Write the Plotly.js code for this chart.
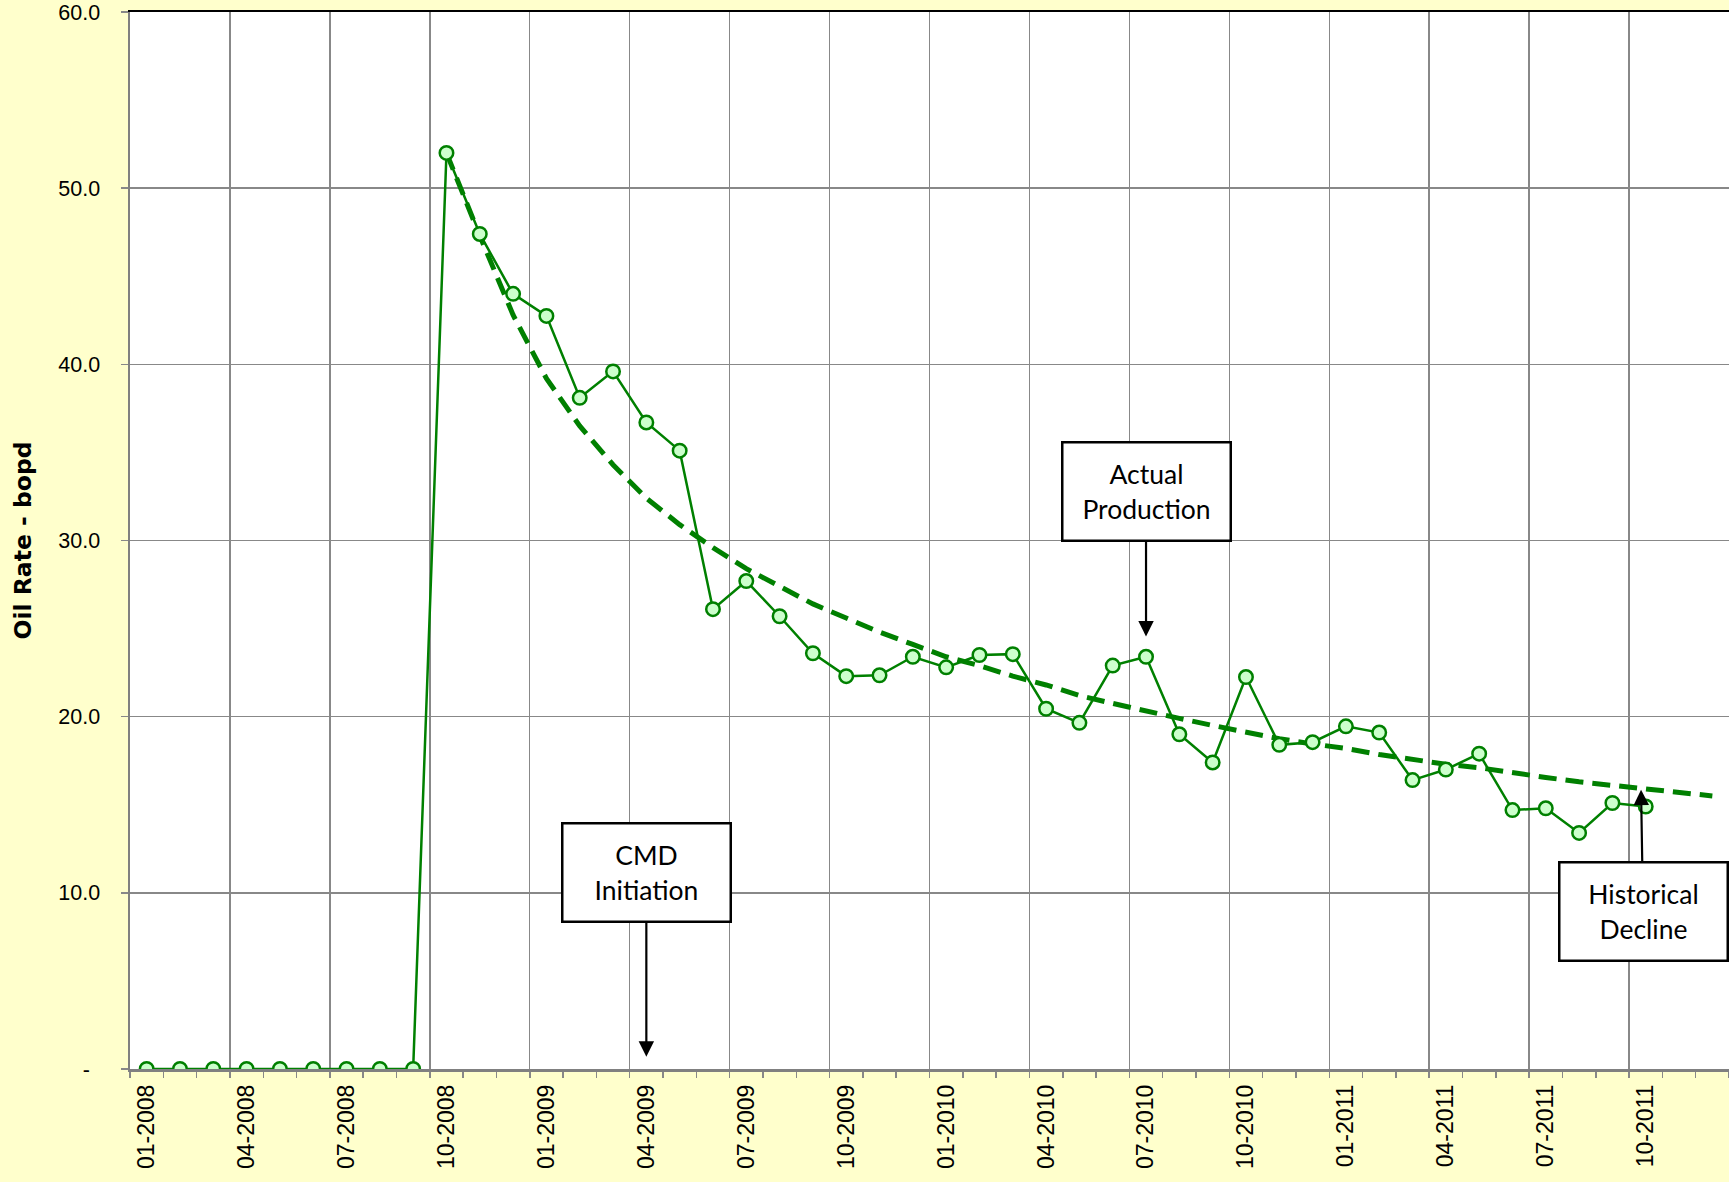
<!DOCTYPE html>
<html>
<head>
<meta charset="utf-8">
<script src="https://cdn.plot.ly/plotly-3.0.1.min.js"></script>
<style>
html,body{margin:0;padding:0;background:#FFFFCC;}
#chart{width:1729px;height:1182px;}
</style>
</head>
<body>
<div id="chart"></div>
<script>
// ---- data ----
const months = [
  '01-2008','02-2008','03-2008','04-2008','05-2008','06-2008','07-2008','08-2008','09-2008','10-2008','11-2008','12-2008',
  '01-2009','02-2009','03-2009','04-2009','05-2009','06-2009','07-2009','08-2009','09-2009','10-2009','11-2009','12-2009',
  '01-2010','02-2010','03-2010','04-2010','05-2010','06-2010','07-2010','08-2010','09-2010','10-2010','11-2010','12-2010',
  '01-2011','02-2011','03-2011','04-2011','05-2011','06-2011','07-2011','08-2011','09-2011','10-2011','11-2011','12-2011'
];
// Actual production, oil rate (bopd), 01-2008 .. 10-2011
const actualRate = [
  0,0,0,0,0,0,0,0,0,
  52.0,47.4,44.0,42.75,38.1,39.6,36.7,35.1,26.1,27.7,25.7,23.6,22.3,22.35,23.4,22.8,23.5,23.55,
  20.45,19.65,22.9,23.4,19.0,17.4,22.25,18.4,18.55,19.45,19.1,16.4,17.0,17.9,14.7,14.8,13.4,15.1,14.9
];
// Historical decline, 10-2008 .. 12-2011
const declineStart = '10-2008';
const declineRate = [
  52.0,47.3,42.8,39.2,36.5,34.3,32.4,30.9,29.6,28.4,
  27.4,26.4,25.6,24.8,24.1,23.4,22.9,22.3,21.8,21.2,
  20.75,20.3,19.9,19.5,19.1,18.75,18.45,18.2,17.85,17.55,
  17.3,17.1,16.8,16.55,16.3,16.1,15.9,15.7,15.5
];
const yTickVals = [0,10,20,30,40,50,60];
const yTickText = ['-\u00a0\u2009','10.0','20.0','30.0','40.0','50.0','60.0'];
const labelMonths = months.filter((m,i)=>i%3===0);

const annotationsText = ['CMD<br>Initiation','Actual<br>Production','Historical<br>Decline'];

// ---- positions derived from indices ----
const actualX = actualRate.map((v,i)=>i);
const d0 = months.indexOf(declineStart);
const declineX = declineRate.map((v,i)=>d0+i);
const nCat = months.length;
const labelVals = labelMonths.map(m=>months.indexOf(m));
const gridVals = [];
for(let i=0;i<=nCat;i+=3) gridVals.push(i-0.5);
const minorVals = [];
for(let i=0;i<=nCat;i++) minorVals.push(i-0.5);

const GREEN = '#008000';
const GRID = '#888888';

const traces = [
  {
    x: declineX, y: declineRate, type:'scatter', mode:'lines',
    line:{color:GREEN, width:5, dash:'18px,9px'},
    hoverinfo:'skip', showlegend:false
  },
  {
    x: actualX, y: actualRate, type:'scatter', mode:'lines+markers',
    line:{color:GREEN, width:2.5},
    marker:{symbol:'circle', size:13.5, color:'#CCFFCC', line:{color:GREEN, width:2.5}},
    showlegend:false
  },
  {x:[], y:[], xaxis:'x2', type:'scatter', hoverinfo:'skip', showlegend:false},
  {x:[], y:[], xaxis:'x3', type:'scatter', hoverinfo:'skip', showlegend:false}
];

const xr = [-0.5, nCat-0.5];
const annFont = {family:'Lato, "Open Sans", sans-serif', size:26.5, color:'#000'};
function box(text, x, y, ax, ay){
  return {
    text:text, x:x, y:y, xref:'x', yref:'y', axref:'pixel', ayref:'pixel', ax:ax, ay:ay,
    showarrow:true, arrowhead:2, arrowsize:1.4, arrowwidth:2.2, arrowcolor:'#000', standoff:0,
    bgcolor:'#FFFFFF', bordercolor:'#000', borderwidth:2.5, borderpad:0,
    width:166, height:96, font:annFont, align:'center', valign:'middle'
  };
}

const layout = {
  width:1729, height:1182,
  paper_bgcolor:'#FFFFCC', plot_bgcolor:'#FFFFFF',
  margin:{l:130, r:0, t:12, b:113},
  font:{family:'"Liberation Sans", Arial, sans-serif', color:'#000'},
  showlegend:false,
  xaxis:{
    type:'linear', range:xr, fixedrange:true,
    tickmode:'array', tickvals:gridVals, ticktext:gridVals.map(()=> ''),
    ticks:'outside', ticklen:10, tickwidth:1.5, tickcolor:GRID,
    showgrid:true, gridcolor:GRID, gridwidth:1.4,
    showline:true, linecolor:'#808080', linewidth:2.5,
    zeroline:false,
    minor:{tickmode:'array', tickvals:minorVals, ticks:'outside', ticklen:6, tickwidth:1.5, tickcolor:GRID, showgrid:false}
  },
  xaxis2:{
    type:'linear', range:xr, overlaying:'x', anchor:'y', side:'bottom', fixedrange:true,
    tickmode:'array', tickvals:labelVals, ticktext:labelMonths,
    ticks:'', showgrid:false, showline:false, zeroline:false,
    tickangle:-90, tickfont:{size:23, color:'#000'}, ticklabelstandoff:10,
    ticklabeloverflow:'allow'
  },
  xaxis3:{
    type:'linear', range:xr, overlaying:'x', anchor:'y', side:'top', fixedrange:true,
    showticklabels:false, ticks:'', showgrid:false, zeroline:false,
    showline:true, linecolor:'#000', linewidth:2.5
  },
  yaxis:{
    range:[0,60], fixedrange:true,
    tickmode:'array', tickvals:yTickVals, ticktext:yTickText,
    ticks:'outside', ticklen:7, tickwidth:1.5, tickcolor:GRID,
    showgrid:true, gridcolor:GRID, gridwidth:1.4,
    showline:true, linecolor:'#808080', linewidth:2.5, zeroline:false,
    tickfont:{size:21.5, color:'#000'}, ticklabelstandoff:16,
    ticklabeloverflow:'allow',
    title:{text:'<b>Oil Rate - bopd</b>', font:{family:'"DejaVu Sans", sans-serif', size:23.5, color:'#000'}, standoff:20}
  },
  annotations:[
    box(annotationsText[0], 15.0, 0.7, 0, -184),
    box(annotationsText[1], 30.0, 24.55, 0, -145),
    box(annotationsText[2], 44.86, 15.85, 2, 122)
  ]
};

Plotly.newPlot('chart', traces, layout, {displayModeBar:false, staticPlot:true});
</script>
</body>
</html>
